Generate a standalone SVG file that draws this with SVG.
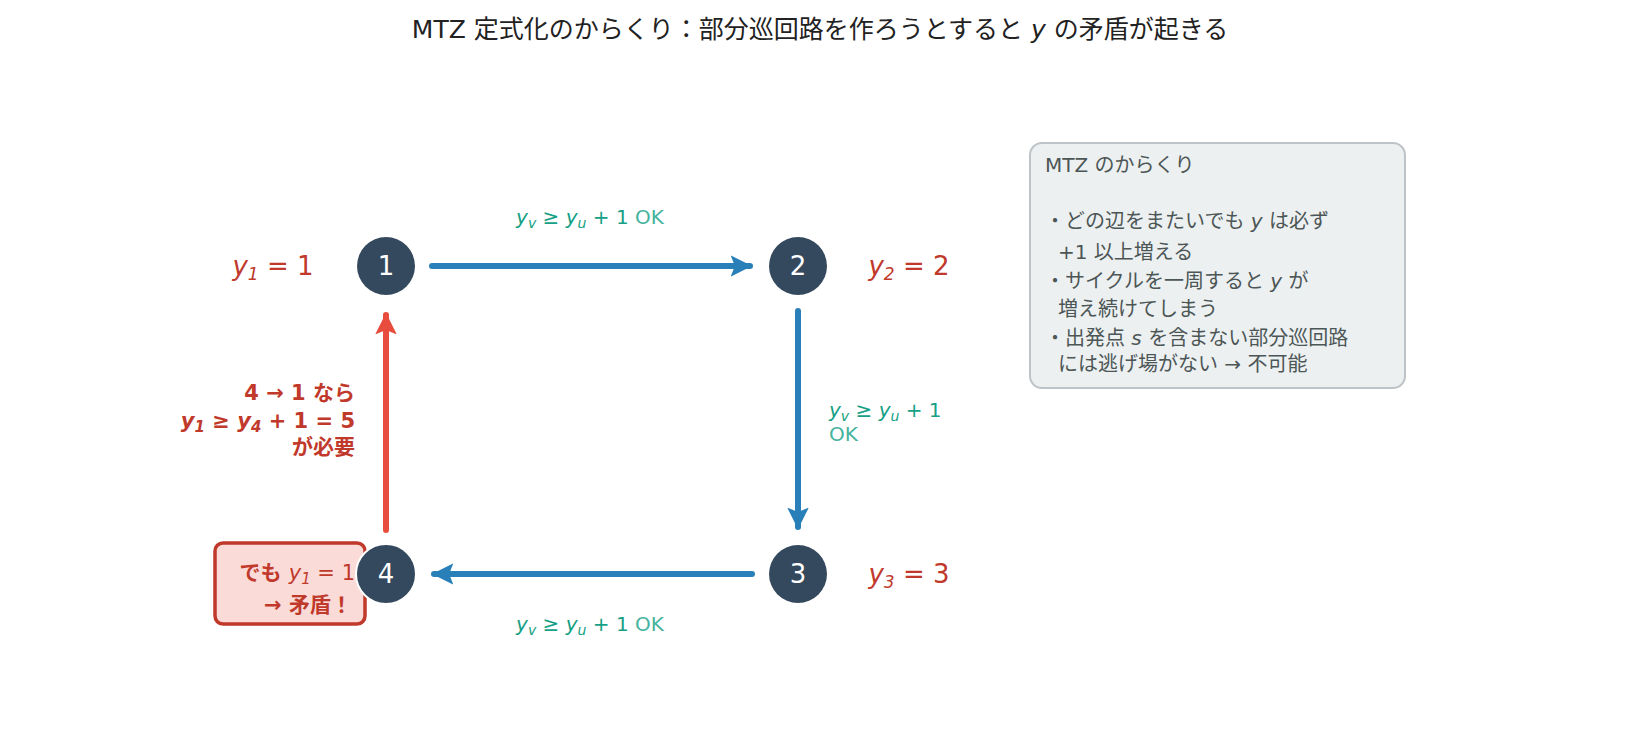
<svg xmlns="http://www.w3.org/2000/svg" width="1635" height="754" viewBox="0 0 1635 754">
<style>
text{font-family:"DejaVu Sans","Noto Sans CJK JP",sans-serif}
.node circle{fill:#34495e}
.node text{fill:#fff;font-size:26px;text-anchor:middle}
.yl{fill:#c0392b;font-size:26px;text-anchor:middle}
.m{font-style:italic}
.g{fill:#16a085;font-size:20px}
.ok{fill:#45b39d}
.r{fill:#c0392b;font-size:21px;font-weight:bold;text-anchor:end}
.info{fill:#4d5656;font-size:20px}
</style>
<defs>
<marker id="ab" viewBox="0 0 10 10" refX="9" refY="5" markerWidth="3.6" markerHeight="3.6" orient="auto" markerUnits="strokeWidth"><path d="M0,0L10,5L0,10L2,5Z" fill="#2980b9"/></marker>
<marker id="ar" viewBox="0 0 10 10" refX="9" refY="5" markerWidth="3.6" markerHeight="3.6" orient="auto" markerUnits="strokeWidth"><path d="M0,0L10,5L0,10L2,5Z" fill="#e74c3c"/></marker>
</defs>
<rect width="1635" height="754" fill="#fff"/>
<text x="820" y="38" font-size="25" text-anchor="middle" fill="#222">MTZ 定式化のからくり：部分巡回路を作ろうとすると <tspan class="m">y</tspan> の矛盾が起きる</text>
<g id="connectors" fill="none" stroke-width="6" stroke-linecap="round">
<line x1="432" y1="266" x2="750" y2="266" stroke="#2980b9" marker-end="url(#ab)"/>
<line x1="798" y1="311" x2="798" y2="527" stroke="#2980b9" marker-end="url(#ab)"/>
<line x1="752" y1="574" x2="434" y2="574" stroke="#2980b9" marker-end="url(#ab)"/>
<line x1="386" y1="530" x2="386" y2="315" stroke="#e74c3c" marker-end="url(#ar)"/>
</g>
<g id="edge-labels">
<text x="590" y="224" class="g" text-anchor="middle"><tspan class="m">y<tspan font-size="14" dy="4">v</tspan></tspan><tspan dy="-4"> ≥ </tspan><tspan class="m">y<tspan font-size="14" dy="4">u</tspan></tspan><tspan dy="-4"> + 1 </tspan><tspan class="ok">OK</tspan></text>
<text x="829" y="417" class="g"><tspan class="m">y<tspan font-size="14" dy="4">v</tspan></tspan><tspan dy="-4"> ≥ </tspan><tspan class="m">y<tspan font-size="14" dy="4">u</tspan></tspan><tspan dy="-4"> + 1</tspan></text>
<text x="829" y="441" class="g ok">OK</text>
<text x="590" y="631" class="g" text-anchor="middle"><tspan class="m">y<tspan font-size="14" dy="4">v</tspan></tspan><tspan dy="-4"> ≥ </tspan><tspan class="m">y<tspan font-size="14" dy="4">u</tspan></tspan><tspan dy="-4"> + 1 </tspan><tspan class="ok">OK</tspan></text>
<text x="355" y="400" class="r">4 → 1 なら</text>
<text x="355" y="428" class="r" font-weight="normal"><tspan class="m">y<tspan font-size="15" dy="4">1</tspan></tspan><tspan dy="-4"> ≥ </tspan><tspan class="m">y<tspan font-size="15" dy="4">4</tspan></tspan><tspan dy="-4"> + 1 = 5</tspan></text>
<text x="355" y="454" class="r">が必要</text>
</g>
<g id="n1" class="node"><circle cx="386" cy="266" r="29"/><text x="386" y="275">1</text></g>
<g id="n2" class="node"><circle cx="798" cy="266" r="29"/><text x="798" y="275">2</text></g>
<g id="n3" class="node"><circle cx="798" cy="574" r="29"/><text x="798" y="583">3</text></g>
<g id="contradiction"><rect x="215" y="543" width="150" height="81" rx="8" fill="#fadbd8" stroke="#c0392b" stroke-width="3.5"/>
<text x="355" y="580" class="r" font-size="23"><tspan>でも </tspan><tspan class="m" font-weight="normal">y<tspan font-size="15" dy="4">1</tspan></tspan><tspan dy="-4" font-weight="normal"> = 1</tspan></text>
<text x="352" y="612" class="r" font-size="23">→ 矛盾！</text></g>
<g id="n4" class="node"><circle cx="386" cy="574" r="30" stroke="#fff" stroke-width="2"/><text x="386" y="583">4</text></g>
<g id="y-labels">
<text x="273" y="275" class="yl"><tspan class="m">y<tspan font-size="17" dy="5">1</tspan></tspan><tspan dy="-5"> = 1</tspan></text>
<text x="909" y="275" class="yl"><tspan class="m">y<tspan font-size="17" dy="5">2</tspan></tspan><tspan dy="-5"> = 2</tspan></text>
<text x="909" y="583" class="yl"><tspan class="m">y<tspan font-size="17" dy="5">3</tspan></tspan><tspan dy="-5"> = 3</tspan></text>
</g>
<g id="info">
<rect x="1030" y="143" width="375" height="245" rx="12" fill="#ecf0f1" stroke="#bdc3c7" stroke-width="2"/>
<text class="info" x="1045" y="172">MTZ のからくり</text>
<text class="info" x="1045" y="228">・どの辺をまたいでも <tspan class="m">y</tspan> は必ず</text>
<text class="info" x="1058" y="259">+1 以上増える</text>
<text class="info" x="1045" y="288">・サイクルを一周すると <tspan class="m">y</tspan> が</text>
<text class="info" x="1058" y="316">増え続けてしまう</text>
<text class="info" x="1045" y="345">・出発点 <tspan class="m">s</tspan> を含まない部分巡回路</text>
<text class="info" x="1058" y="371">には逃げ場がない → 不可能</text>
</g>
</svg>
